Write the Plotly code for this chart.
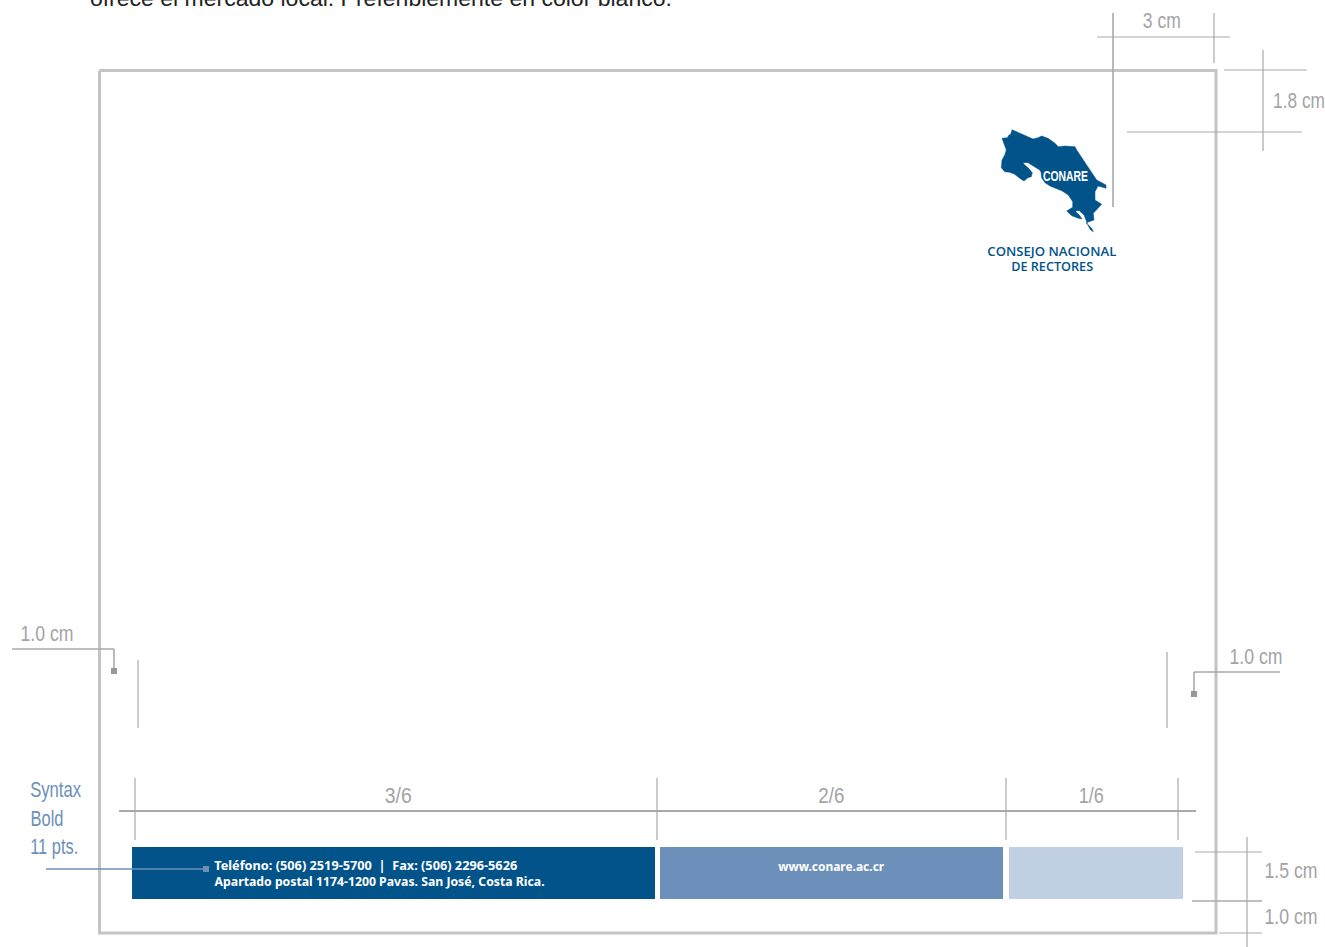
import json
import plotly.graph_objects as go

W, H = 1325, 947
DARK, MID, LIGHT = "#02538a", "#6c90ba", "#c0cfe2"
GREY = "#a3a3a5"

# Panels: (x0, x1, y0, y1, colour)
panels = [(132, 655, 847, 899, DARK), (660, 1003, 847, 899, MID), (1009, 1183, 847, 899, LIGHT)]
frame_x = [99.5, 1216, 1216, 99.5, 99.5]
frame_y = [70.5, 70.5, 933, 933, 70.5]

# Dimension lines: (x0, y0, x1, y1, width)
dims = [
    (119, 811, 1196, 811, 2), (135, 778, 135, 840, 1.2), (657, 778, 657, 840, 1.2),
    (1006, 778, 1006, 840, 1.2), (1178, 778, 1178, 840, 1.2),
    (1113, 13, 1113, 207, 1.6), (1214, 13, 1214, 63, 1.2), (1097, 37, 1230, 37, 1.2),
    (1224, 70, 1307, 70, 1.2), (1127, 132, 1302, 132, 1.2), (1263, 50, 1263, 151, 1.2),
    (1247, 837, 1247, 947, 1.2), (1195, 852, 1262, 852, 1.2), (1192, 901, 1262, 901, 1.6),
    (1219, 933, 1262, 933, 1.2),
    (138, 660, 138, 728, 1.2), (1167, 652, 1167, 728, 1.2),
    (12, 649, 114, 649, 1.6), (114, 649, 114, 670, 1.6),
    (1194, 672, 1280, 672, 1.6), (1194, 672, 1194, 692, 1.6),
]
grey_square_x, grey_square_y = [114, 1194], [671, 694]
syntax_line_x, syntax_line_y = [46, 205], [869, 869]
syntax_square_x, syntax_square_y = [206], [869]

logo_x = [1012, 1018, 1026.3, 1033, 1038, 1041.7, 1048, 1055, 1058.3, 1065, 1075, 1076.7, 1088, 1096.7, 1106, 1106,
          1098, 1095, 1095, 1101.7, 1093.3, 1094, 1086, 1091.7, 1093.3, 1090.7, 1088.3, 1086, 1084, 1079.3, 1076,
          1076, 1079.3, 1082, 1078.3, 1071.7, 1066.7, 1072.7, 1072.7, 1068.3, 1061.7, 1050, 1045, 1041.7, 1041,
          1039.7, 1034, 1028, 1023, 1024, 1028.7, 1032.3, 1031.3, 1028, 1024, 1020.7, 1014.7, 1009.7, 1004.7,
          1001.3, 1002, 1004.7, 1006.3, 1004.7, 1003, 1002, 1007.3, 1009, 1010.7, 1012]
logo_y = [129.7, 132.3, 136, 139, 137.7, 136, 138.3, 143.3, 146.7, 146, 146.7, 150, 167, 180, 185, 188.3,
          186, 191.7, 200, 204.3, 213.3, 220, 222.7, 228.3, 231.7, 230, 226, 220.7, 215, 210.7, 210.7,
          212, 215, 219, 218.3, 215.7, 211, 207.3, 201.7, 195, 190.7, 186, 182.7, 178, 172,
          170, 166.7, 162.7, 162.7, 164.3, 168.3, 172.7, 176.7, 177.7, 181, 179, 174.3, 172.3, 171.7,
          167.7, 160, 155, 150, 145.7, 140, 138.3, 137.7, 135, 134.3, 129.7]

SANS = "Liberation Sans"
# Text: (string, centre x, y, yanchor, size, colour, family, weight, ink width)
labels = [
    ("ofrece el mercado local. Preferiblemente en color blanco.", 381, 11, "bottom", 22.7, "#222222", SANS, 400, 582),
    ("3 cm", 1162, 20, "middle", 22, GREY, SANS, 400, 38),
    ("1.8 cm", 1299, 100, "middle", 22, GREY, SANS, 400, 52),
    ("1.0 cm", 47, 633, "middle", 22, GREY, SANS, 400, 53),
    ("1.0 cm", 1256, 656, "middle", 22, GREY, SANS, 400, 53),
    ("1.5 cm", 1291, 870, "middle", 22, GREY, SANS, 400, 53),
    ("1.0 cm", 1291, 916, "middle", 22, GREY, SANS, 400, 53),
    ("3/6", 398, 795, "middle", 22, GREY, SANS, 400, 27),
    ("2/6", 831, 795, "middle", 22, GREY, SANS, 400, 26),
    ("1/6", 1091, 795, "middle", 22, GREY, SANS, 400, 25),
    ("Syntax", 55.5, 789, "middle", 22, MID, SANS, 400, 51),
    ("Bold", 46.5, 818, "middle", 22, MID, SANS, 400, 33),
    ("11 pts.", 54, 846, "middle", 22, MID, SANS, 400, 48),
    ("Teléfono: (506) 2519-5700  |  Fax: (506) 2296-5626", 365.5, 865, "middle", 12, "white", "Noto Sans", 700, 303),
    ("Apartado postal 1174-1200 Pavas. San José, Costa Rica.", 379, 881, "middle", 12, "white", "Noto Sans", 700, 330),
    ("www.conare.ac.cr", 831, 866, "middle", 12, "white", "Noto Sans", 700, 106),
    ("CONARE", 1065, 175.5, "middle", 15, "white", SANS, 700, 45),
    ("CONSEJO NACIONAL", 1052, 250.5, "middle", 13, DARK, "Open Sans", 600, 129),
    ("DE RECTORES", 1052, 265.5, "middle", 13, DARK, "Open Sans", 600, 82),
]
ink_widths = [row[-1] for row in labels]

fig = go.Figure()
fig.add_trace(go.Scatter(x=frame_x, y=frame_y, mode="lines", line=dict(color="#c4c4c4", width=3)))
for x0, x1, y0, y1, c in panels:
    fig.add_trace(go.Scatter(x=[x0, x1, x1, x0, x0], y=[y0, y0, y1, y1, y0], mode="lines",
                             fill="toself", fillcolor=c, line=dict(width=0, color=c)))
for x0, y0, x1, y1, w in dims:
    fig.add_trace(go.Scatter(x=[x0, x1], y=[y0, y1], mode="lines", line=dict(color="#a9a9ab", width=w)))
fig.add_trace(go.Scatter(x=grey_square_x, y=grey_square_y, mode="markers",
                         marker=dict(symbol="square", size=6, color="#98989a")))
fig.add_trace(go.Scatter(x=syntax_line_x, y=syntax_line_y, mode="lines", line=dict(color=MID, width=1.4)))
fig.add_trace(go.Scatter(x=syntax_square_x, y=syntax_square_y, mode="markers",
                         marker=dict(symbol="square", size=6, color=MID)))
fig.add_trace(go.Scatter(x=logo_x, y=logo_y, mode="lines", fill="toself", fillcolor=DARK,
                         line=dict(width=0.5, color=DARK)))

for s, x, y, ya, size, c, fam, wt, _ in labels:
    fig.add_annotation(x=x, y=y, text=s, showarrow=False, xanchor="center", yanchor=ya,
                       borderpad=0, borderwidth=0, font=dict(size=size, color=c, family=fam, weight=wt))

fig.update_layout(width=W, height=H, margin=dict(l=0, r=0, t=0, b=0), showlegend=False,
                  paper_bgcolor="white", plot_bgcolor="white", hovermode=False)
fig.update_xaxes(range=[0, W], visible=False, fixedrange=True)
fig.update_yaxes(range=[H, 0], visible=False, fixedrange=True)

post = """
document.body.style.margin='0';
document.documentElement.style.overflow='hidden';
var inkWidths = %s;
document.querySelectorAll('text.annotation-text').forEach(function(t, i) {
  t.setAttribute('lengthAdjust', 'spacingAndGlyphs');
  t.setAttribute('textLength', inkWidths[i]);
});
""" % json.dumps(ink_widths)
fig.write_html("out.html", post_script=post, config={"displayModeBar": False})
